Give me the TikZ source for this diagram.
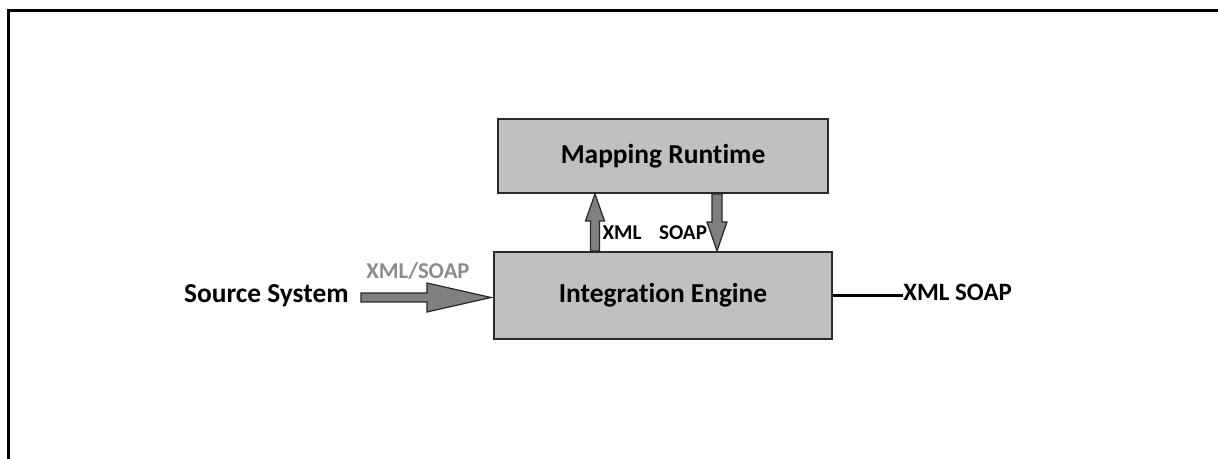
\documentclass[tikz,border=0pt]{standalone}
\usepackage{fontspec}
\setmainfont{Carlito}[Ligatures=NoCommon]
\usetikzlibrary{positioning,calc}

\definecolor{boxgray}{HTML}{C0C0C0}
\definecolor{arrowgray}{HTML}{808080}
\definecolor{labelgray}{HTML}{8C8C8C}
\definecolor{edgegray}{HTML}{2A2A2A}

\begin{document}
\begin{tikzpicture}[
  every node/.style={font=\bfseries},
  box/.style={draw=edgegray, line width=1.2pt, fill=boxgray, font=\fontsize{15.6}{18}\bfseries},
  tag/.style={inner sep=0pt, font=\fontsize{12}{14}\bfseries},
  blockarrow/.style={draw=edgegray, line width=0.7pt, fill=arrowgray}
]

% Frame
\useasboundingbox (0,0) rectangle (24.36,9.18);
\draw[line width=1.7pt] (0.17,0) -- (0.17,8.966) -- (24.36,8.966);

% Boxes
\node[box, minimum width=6.76cm, minimum height=1.74cm] (engine) at (13.26,3.27) {Integration Engine};
\node[box, minimum width=6.6cm, minimum height=1.48cm, above=1.14cm of engine] (mapping) {Mapping Runtime};

% Left and right ends
\node[inner sep=0pt, font=\fontsize{15.6}{18}\bfseries, left=2.88cm of engine] (source) {Source System};
\node[inner sep=0pt, font=\fontsize{14.2}{17}\bfseries, right=1.4cm of engine, yshift=0.06cm] (soapout) {XML SOAP};

% Labels
\node[tag, text=labelgray, font=\fontsize{12.9}{15}\bfseries] (srclabel) at ($(engine.west)+(-1.5,0.48)$) {XML/SOAP};
\node[tag] (xmllabel) at ($(engine.north)+(-0.82,0.37)$) {XML};
\node[tag] (soaplabel) at ($(engine.north)+(0.4,0.37)$) {SOAP};

% Arrows
\draw[blockarrow] let \p1=($(source.east)+(0.24,0)$), \p2=($(engine.west)+(-0.04,-0.04)$) in
  (\x1,\y2+0.09cm) -- (\x2-1.28cm,\y2+0.09cm) -- (\x2-1.28cm,\y2+0.29cm) -- (\x2,\y2)
  -- (\x2-1.28cm,\y2-0.29cm) -- (\x2-1.28cm,\y2-0.09cm) -- (\x1,\y2-0.09cm) -- cycle;
\draw[blockarrow] let \p1=($(engine.north)+(-1.36,0)$), \p2=(mapping.south) in
  (\x1-0.09cm,\y1) -- (\x1-0.09cm,\y2-0.54cm) -- (\x1-0.19cm,\y2-0.54cm) -- (\x1,\y2)
  -- (\x1+0.19cm,\y2-0.54cm) -- (\x1+0.09cm,\y2-0.54cm) -- (\x1+0.09cm,\y1) -- cycle;
\draw[blockarrow] let \p1=($(mapping.south)+(1.08,0)$), \p2=(engine.north) in
  (\x1-0.1cm,\y1) -- (\x1-0.1cm,\y2+0.58cm) -- (\x1-0.2cm,\y2+0.58cm) -- (\x1,\y2)
  -- (\x1+0.2cm,\y2+0.58cm) -- (\x1+0.1cm,\y2+0.58cm) -- (\x1+0.1cm,\y1) -- cycle;
\draw[line width=1.7pt] (engine.east) -- (soapout.west |- engine.east);

\end{tikzpicture}
\end{document}
